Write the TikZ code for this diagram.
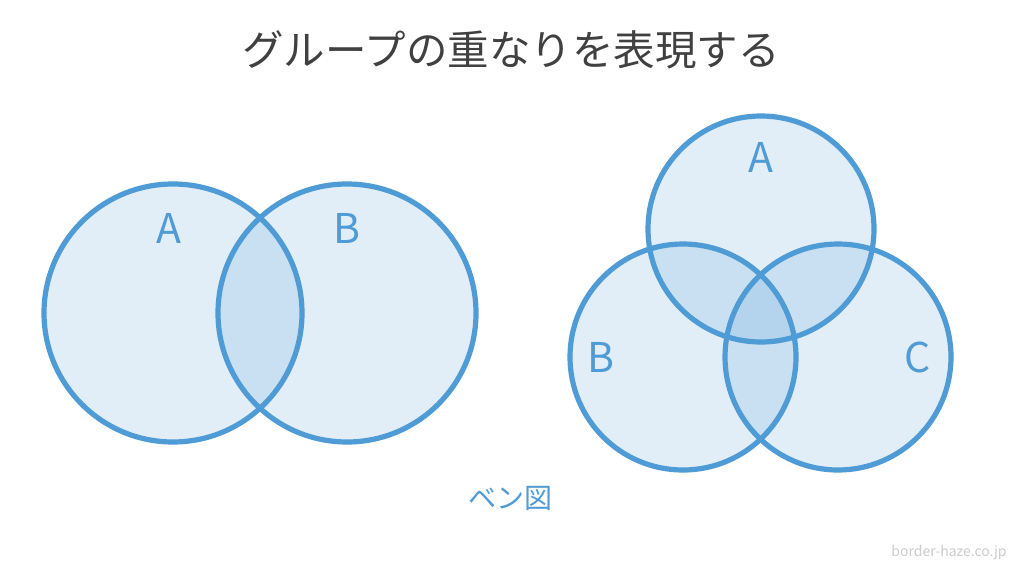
\documentclass[tikz,border=0pt]{standalone}
\usepackage{fontspec}
\newfontfamily\cjk{Noto Sans CJK JP}
\setmainfont{Noto Sans}
\definecolor{vblue}{HTML}{4F9BD5}
\definecolor{vtitle}{HTML}{404040}
\definecolor{vmark}{HTML}{CCCCCC}
\begin{document}
\begin{tikzpicture}[x=1pt,y=-1pt,
  setc/.style={circle,draw=vblue,line width=5.2pt,fill=vblue,fill opacity=0.17,text opacity=1,inner sep=0pt},
  lbl/.style={text=vblue,font=\cjk\fontsize{41}{41}\selectfont,inner sep=0pt}]
\useasboundingbox[fill=white] (0,0) rectangle (1024,576);
\node[font=\cjk\fontsize{41.5}{41.5}\selectfont,text=vtitle] (title) at (511,50) {グループの重なりを表現する};
% left Venn
\node[setc,minimum size=258pt] (lA) at (173,313) {};
\node[setc,minimum size=258pt] (lB) at (347,313) {};
\node[lbl] (lAt) at (169,228) {A};
\node[lbl] (lBt) at (347,228) {B};
% right Venn
\node[setc,minimum size=226pt] (rA) at (761,229) {};
\node[setc,minimum size=226pt] (rB) at (683,357) {};
\node[setc,minimum size=226pt] (rC) at (838,357) {};
\node[lbl] (rAt) at (761,157) {A};
\node[lbl] (rBt) at (601,357) {B};
\node[lbl] (rCt) at (918,357) {C};
\node[text=vblue,font=\cjk\fontsize{28}{28}\selectfont] (cap) at (510,498) {ベン図};
\node[text=vmark,font=\cjk\fontsize{14}{14}\selectfont] (mark) at (949,553) {border-haze.co.jp};
\end{tikzpicture}
\end{document}
